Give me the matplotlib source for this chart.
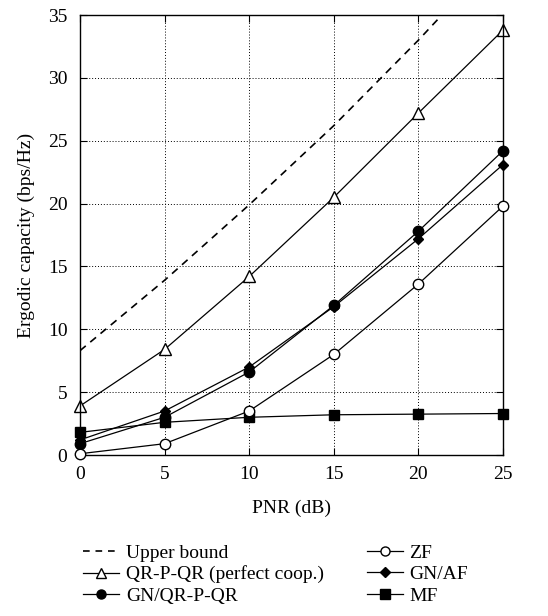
import matplotlib
matplotlib.use("Agg")
import matplotlib.pyplot as plt
from matplotlib.lines import Line2D

plt.rcParams['font.family'] = ['Liberation Serif', 'DejaVu Serif']

# PNR values (dB)
pnr = [0, 5, 10, 15, 20, 25]

# ergodic capacity curves (bps/Hz)
upper_bound = [8.3, 13.9, 19.9, 26.2, 33.0, 40.2]
qr_perfect = [3.9, 8.4, 14.2, 20.5, 27.2, 33.8]
gn_qr = [0.9, 3.0, 6.6, 11.9, 17.8, 24.2]
gn_af = [1.2, 3.5, 7.0, 11.8, 17.2, 23.1]
zf = [0.1, 0.9, 3.5, 8.0, 13.6, 19.8]
mf = [1.8, 2.6, 3.0, 3.2, 3.25, 3.3]

labels = ['Upper bound', 'QR-P-QR (perfect coop.)', 'GN/QR-P-QR', 'ZF', 'GN/AF', 'MF']

fig = plt.figure(figsize=(5.48, 6.16), dpi=100)
ax = fig.add_axes([80 / 548, 1 - 455 / 616, 423 / 548, 440 / 616])

lw = 0.9
ax.plot(pnr, upper_bound, color='black', lw=1.2, dashes=(4.5, 3.5))
ax.plot(pnr, qr_perfect, color='black', lw=lw, marker='^', ms=8, mfc='white', mec='black', clip_on=False)
ax.plot(pnr, gn_qr, color='black', lw=lw, marker='o', ms=7.5, mfc='black', mec='black', clip_on=False)
ax.plot(pnr, gn_af, color='black', lw=lw, marker='D', ms=5.5, mfc='black', mec='black', clip_on=False)
ax.plot(pnr, zf, color='black', lw=lw, marker='o', ms=7.5, mfc='white', mec='black', clip_on=False, zorder=3)
ax.plot(pnr, mf, color='black', lw=lw, marker='s', ms=6.5, mfc='black', mec='black', clip_on=False)

ax.set_xlim(0, 25)
ax.set_ylim(0, 35)
ax.set_xticks(pnr)
ax.set_yticks(range(0, 36, 5))
ax.grid(True, color='black', linestyle=(0, (1, 2)), linewidth=0.7)
ax.tick_params(direction='in', top=True, right=True, labelsize=14, length=5)
ax.tick_params(axis='x', pad=8)
ax.tick_params(axis='y', pad=9)
for s in ax.spines.values():
    s.set_linewidth(1.0)
ax.set_xlabel('PNR (dB)', fontsize=14, labelpad=12)
ax.set_ylabel('Ergodic capacity (bps/Hz)', fontsize=14, labelpad=9)

handles = [
    Line2D([0], [0], color='black', lw=1.2, dashes=(4, 3.5)),
    Line2D([0], [0], color='black', lw=lw, marker='^', ms=7, mfc='white', mec='black'),
    Line2D([0], [0], color='black', lw=lw, marker='o', ms=6.5, mfc='black', mec='black'),
    Line2D([0], [0], color='black', lw=lw, marker='o', ms=6.5, mfc='white', mec='black'),
    Line2D([0], [0], color='black', lw=lw, marker='D', ms=5, mfc='black', mec='black'),
    Line2D([0], [0], color='black', lw=lw, marker='s', ms=6.5, mfc='black', mec='black'),
]
fig.legend(handles, labels, ncol=2, loc='upper left', bbox_to_anchor=(83 / 548, 1 - 544 / 616),
           frameon=False, fontsize=14, handlelength=1.85, handletextpad=0.35,
           columnspacing=2.2, labelspacing=0.2, borderpad=0, borderaxespad=0)

fig.savefig('out.png', dpi=100, facecolor='white')
